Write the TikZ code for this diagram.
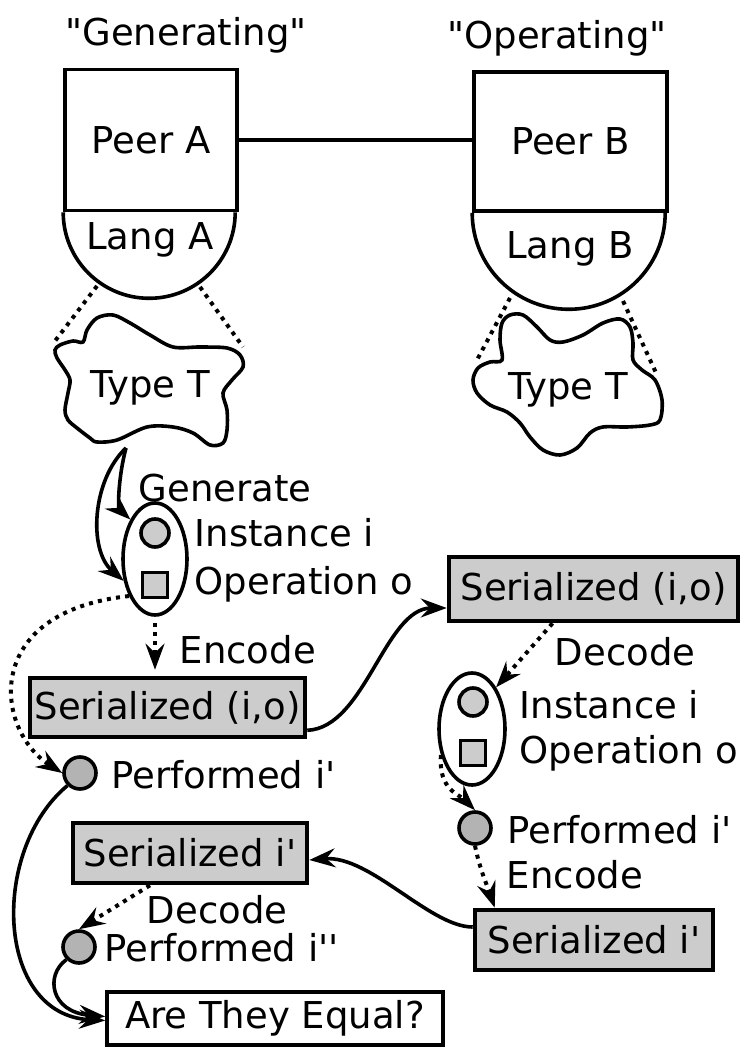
\documentclass[tikz,border=0pt]{standalone}
\usepackage{fontspec}
\setmainfont{DejaVu Sans}[Ligatures=TeXOff]
\usetikzlibrary{arrows.meta,shapes.geometric}
\definecolor{boxgray}{RGB}{204,204,204}
\definecolor{dotgray}{RGB}{179,179,179}

\begin{document}
\begin{tikzpicture}[x=0.5pt,y=-0.5pt,line width=1.8pt,font=\fontsize{18.5}{22}\selectfont,
  peer/.style={draw,minimum width=86pt,minimum height=70.5pt,inner sep=0pt},
  ser/.style={draw,fill=boxgray,line width=2.3pt,inner sep=0pt,minimum height=30pt},
  inst/.style={draw,circle,fill=boxgray,minimum size=14pt,inner sep=0pt},
  perf/.style={draw,circle,fill=dotgray,minimum size=16pt,inner sep=0pt},
  oper/.style={draw,fill=boxgray,minimum size=12.5pt,inner sep=0pt},
  pack/.style={draw,ellipse,inner sep=0pt,minimum height=56pt},
  lbl/.style={anchor=west,inner sep=0pt},
  link/.style={line width=2pt,dash pattern=on 2pt off 2.6pt},
  flow/.style={-{Stealth[length=13pt,width=9.5pt,inset=4.5pt]}},
  code/.style={flow,link}]
\useasboundingbox (0,0) rectangle (744,1052);
% peers and their languages
\node (genHead) at (186,35) {"Generating"};
\node (opHead) at (557,38) {"Operating"};
\node[peer] (peerA) at (151,140) {Peer A};
\node[peer,minimum width=96.5pt,minimum height=69.5pt] (peerB) at (570.5,141.5) {Peer B};
\draw (peerA.south west) arc[start angle=180,end angle=360,radius=43pt];
\draw (peerB.south west) arc[start angle=180,end angle=360,radius=48.25pt];
\node (langA) at (150,240) {Lang A};
\node (langB) at (570,249) {Lang B};
\draw (peerA.east) -- (peerB.west |- peerA.east);
% types
\draw plot[smooth cycle,tension=0.55] coordinates {(55,350) (57,358) (65,370) (70,380) (68,393) (65,410) (68,420) (77,428) (90,438) (97,442) (117,440) (147,427) (173,427) (193,433) (210,445) (223,443) (227,430) (227,410) (223,393) (232,380) (243,367) (240,355) (227,348) (200,347) (173,347) (150,335) (130,323) (113,315) (97,318) (87,330) (83,342) (73,341) (60,345)};
\draw plot[smooth cycle,tension=0.55] coordinates {(502,360) (500,340) (502,323) (510,315) (523,315) (537,327) (550,340) (563,342) (583,335) (603,323) (620,319) (630,327) (633,343) (633,360) (642,370) (655,380) (662,400) (660,420) (650,425) (627,427) (603,427) (590,433) (577,448) (560,455) (543,450) (530,437) (520,423) (507,412) (490,405) (477,393) (473,380) (478,368) (490,362)};
\node (typeA) at (150,388) {Type T};
\node (typeB) at (568,390) {Type T};
\coordinate (langA-l) at (97,286);
\coordinate (langA-r) at (200,287);
\coordinate (typeA-l) at (55,341);
\coordinate (typeA-r) at (243,347);
\coordinate (langB-l) at (510,298);
\coordinate (langB-r) at (623,301);
\coordinate (typeB-l) at (477,360);
\coordinate (typeB-r) at (657,375);
\draw[link] (langA-l) -- (typeA-l);
\draw[link] (langA-r) -- (typeA-r);
\draw[link] (langB-l) -- (typeB-l);
\draw[link] (langB-r) -- (typeB-r);
% generating side
\coordinate (genStart) at (126,448);
\node[pack,minimum width=32pt] (packA) at (155,559) {};
\node[inst] (instA) at (155,533) {};
\node[oper] (operA) at (155,585) {};
\node[lbl] (genLbl) at (137,488) {Generate};
\node[lbl] (instAlbl) at (193,533) {Instance i};
\node[lbl] (operAlbl) at (193,584) {Operation o};
\draw[flow] (genStart) .. controls (118,478) and (118,508) .. (packA.122);
\draw[flow] (genStart) .. controls (92,480) and (88,550) .. (packA.215);
\node[ser,minimum width=137.5pt,minimum height=29.5pt] (serA) at (167.5,707.5) {Serialized (i,o)};
\draw[code,shorten <=3pt,shorten >=3pt] (packA.south) -- (packA.south |- serA.north);
\node[lbl] (encAlbl) at (178,650) {Encode};
\node[perf] (perfA) at (80,773) {};
\node[lbl] (perfAlbl) at (110,775) {Performed i'};
\draw[code] (packA.235) .. controls (-20,612) and (-5,730) .. (perfA.west);
% operating side
\node[ser,minimum width=144.5pt,minimum height=32pt] (serB) at (593.5,589) {Serialized (i,o)};
\draw[flow] ([yshift=4.5pt]serA.south east) .. controls (365,728) and (385,608) .. ([yshift=-9.5pt]serB.west);
\node[pack,minimum width=33pt] (packB) at (472,729) {};
\node[inst] (instB) at (473,702) {};
\node[oper] (operB) at (473,753) {};
\node[lbl] (decBlbl) at (553,652) {Decode};
\node[lbl] (instBlbl) at (518,705) {Instance i};
\node[lbl] (operBlbl) at (518,753) {Operation o};
\draw[code] ([xshift=-20.5pt]serB.south) -- (packB.60);
\node[perf] (perfB) at (475,828) {};
\node[lbl] (perfBlbl) at (506,830) {Performed i'};
\draw[code] (packB.220) .. controls (438,790) and (460,795) .. (perfB.north);
\node[ser,minimum width=119pt] (serBp) at (594,940) {Serialized i'};
\draw[code] (perfB.south) .. controls (480,870) and (487,885) .. ([xshift=11pt]serBp.north west);
\node[lbl] (encBlbl) at (505,875) {Encode};
% back on the generating side
\node[ser,minimum width=117pt] (serAp) at (190,853) {Serialized i'};
\draw[flow] ([yshift=6.5pt]serBp.west) .. controls (430,927) and (370,855) .. ([yshift=-3.5pt]serAp.east);
\node[perf] (perfAp) at (79,947) {};
\node[lbl] (perfAplbl) at (103,948) {Performed i''};
\draw[code] ([xshift=-20pt]serAp.south) -- (perfAp.north);
\node[lbl] (decAlbl) at (145,910) {Decode};
\node[draw,minimum width=168pt,minimum height=26.5pt,inner sep=0pt] (equal) at (275,1018.5) {Are They Equal?};
\draw[flow] (perfA.south west) .. controls (-10,850) and (-5,1015) .. ([yshift=-1pt]equal.west);
\draw[flow] (perfAp.south west) .. controls (45,975) and (50,1012) .. ([yshift=1pt]equal.west);
\end{tikzpicture}
\end{document}
